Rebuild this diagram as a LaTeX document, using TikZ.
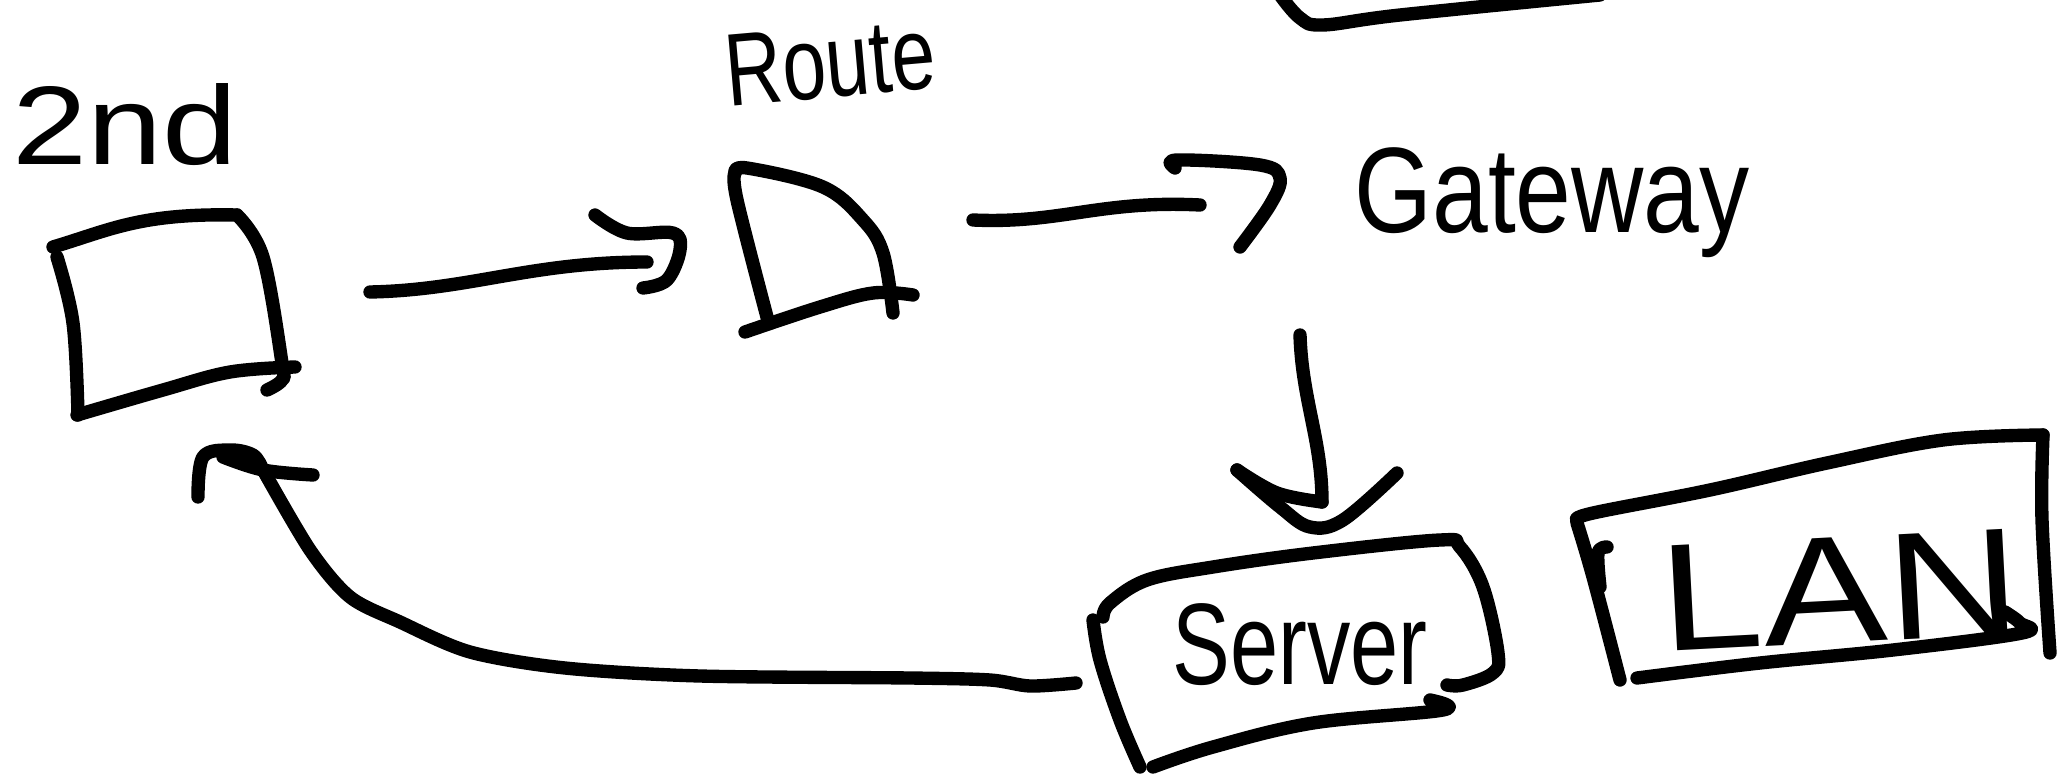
\documentclass[tikz,border=0pt]{standalone}
\usepackage{fontspec}
\setmainfont{Liberation Sans}
\begin{document}
\begin{tikzpicture}[x=0.01cm,y=-0.01cm,
  ink/.style={line width=3.8pt,line cap=round,line join=round},
  lbl/.style={inner sep=0pt,outer sep=0pt}]
\useasboundingbox (0,0) rectangle (2058,779);
\clip (0,0) rectangle (2058,779);

% ---- first box ("2nd") ----
\draw[ink] (53,247) .. controls (110,230) and (140,213) .. (237,215);
\draw[ink] plot[smooth,tension=0.6] coordinates {(237,215) (263,257) (282,363) (282,380) (267,390)};
\draw[ink] plot[smooth,tension=0.6] coordinates {(295,367) (230,372) (163,390) (77,415)};
\draw[ink] plot[smooth,tension=0.6] coordinates {(57,257) (73,323) (78,415)};
\node[lbl] (t2nd) at (125,125) {\resizebox*{2.25cm}{0.82cm}{2nd}};

% ---- router ----
\draw[ink] plot[smooth,tension=0.6] coordinates {(767,317) (737,200) (735,173)};
\draw[ink] plot[smooth,tension=0.6] coordinates {(735,173) (747,168) (823,187) (863,220) (883,253) (893,313)};
\draw[ink] plot[smooth,tension=0.6] coordinates {(745,332) (820,307) (873,293) (913,295)};
\node[lbl,rotate=5] (troute) at (830,62) {\resizebox*{2.1cm}{0.72cm}{Route}};

% ---- gateway ----
\node[lbl] (tgw) at (1552,203) {\resizebox*{3.95cm}{1.1cm}{Gateway}};

% ---- server box ----
\draw[ink] plot[smooth,tension=0.6] coordinates {(1093,620) (1100,660) (1120,720) (1140,767)};
\draw[ink] plot[smooth,tension=0.6] coordinates {(1103,617) (1110,603) (1147,580) (1213,567) (1313,553) (1440,540) (1460,547) (1483,587) (1498,653) (1493,673) (1463,685) (1447,685)};
\draw[ink] plot[smooth,tension=0.6] coordinates {(1153,767) (1213,747) (1313,723) (1443,710) (1430,700)};
\node[lbl] (tsrv) at (1300,645) {\resizebox*{2.55cm}{0.82cm}{Server}};

% ---- LAN box ----
\draw[ink] plot[smooth,tension=0.6] coordinates {(1577,520) (1593,513) (1710,490) (1827,463) (1943,440) (2043,435)};
\draw[ink] plot[smooth,tension=0.6] coordinates {(2043,435) (2042,520) (2050,653)};
\draw[ink] plot[smooth,tension=0.6] coordinates {(1577,523) (1593,577) (1620,680)};
\draw[ink] plot[smooth,tension=0.6] coordinates {(1607,547) (1598,553) (1600,587)};
\draw[ink] plot[smooth,tension=0.6] coordinates {(1637,678) (1760,663) (1893,650) (2022,633) (2020,623) (2005,612)};
\node[lbl,rotate=3] (tlan) at (1840,590) {\resizebox*{3.6cm}{1.05cm}{LAN}};

% ---- box running off the top edge ----
\draw[ink] plot[smooth,tension=0.6] coordinates {(1280,-5) (1300,18) (1323,25) (1400,15) (1600,-5)};

% ---- connectors ----
\coordinate (a1s) at (370,292);
\coordinate (a1e) at (647,262);
\draw[ink] (a1s) .. controls (470,290) and (530,262) .. (a1e);
\draw[ink] plot[smooth,tension=0.6] coordinates {(595,215) (627,233) (673,233) (680,250) (667,280) (643,288)};

\coordinate (a2s) at (973,220);
\coordinate (a2e) at (1200,205);
\draw[ink] (a2s) .. controls (1060,224) and (1100,200) .. (a2e);
\draw[ink] plot[smooth,tension=0.6] coordinates {(1175,168) (1177,160) (1260,165) (1280,178) (1270,205) (1240,247)};

\coordinate (a3s) at (1300,335);
\coordinate (a3e) at (1322,502);
\draw[ink] (a3s) .. controls (1302,400) and (1322,440) .. (a3e);
\draw[ink] plot[smooth,tension=0.6] coordinates {(a3e) (1277,493) (1237,470)};
\draw[ink] plot[smooth,tension=0.6] coordinates {(1237,470) (1280,507) (1310,527) (1343,520) (1397,473)};

\coordinate (a4s) at (1076,683);
\coordinate (a4e) at (262,468);
\draw[ink] plot[smooth,tension=0.5] coordinates {(a4s) (1030,686) (990,680) (910,678) (700,676) (565,668) (470,652) (400,622) (350,597) (310,550) (a4e)};
\draw[ink] plot[smooth,tension=0.6] coordinates {(198,497) (203,457) (230,450) (253,455) (a4e)};
\draw[ink] plot[smooth,tension=0.6] coordinates {(223,457) (263,470) (313,475)};
\end{tikzpicture}
\end{document}
